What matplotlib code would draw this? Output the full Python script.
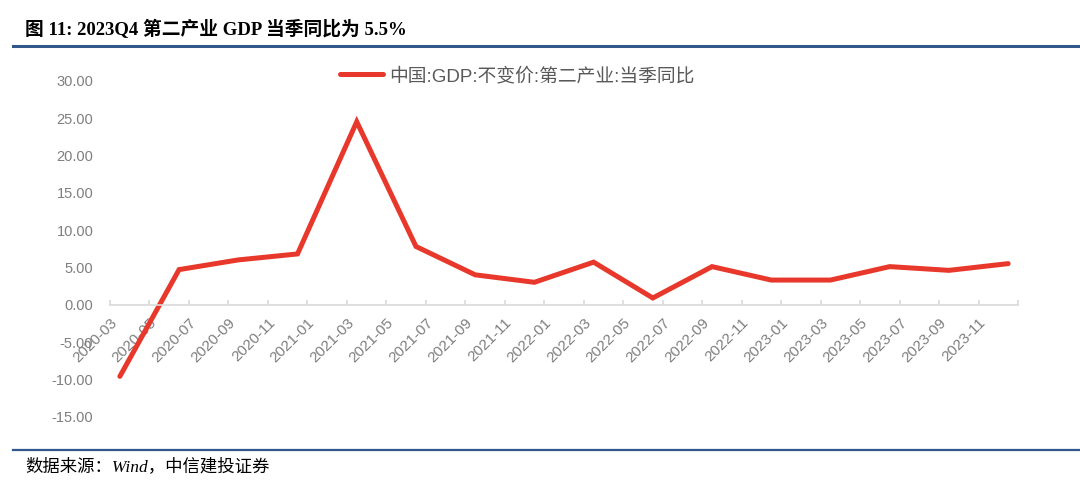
import matplotlib
matplotlib.use("Agg")
import matplotlib.pyplot as plt
from matplotlib.lines import Line2D
from matplotlib.transforms import ScaledTranslation

# quarterly data (end-of-quarter months)
quarters = ["2020-03", "2020-06", "2020-09", "2020-12",
            "2021-03", "2021-06", "2021-09", "2021-12",
            "2022-03", "2022-06", "2022-09", "2022-12",
            "2023-03", "2023-06", "2023-09", "2023-12"]
yoy = [-9.6, 4.7, 6.0, 6.8,
       24.5, 7.8, 4.0, 3.0,
       5.7, 0.9, 5.1, 3.3,
       3.3, 5.1, 4.6, 5.5]

tick_labels = ["2020-03", "2020-05", "2020-07", "2020-09", "2020-11",
               "2021-01", "2021-03", "2021-05", "2021-07", "2021-09", "2021-11",
               "2022-01", "2022-03", "2022-05", "2022-07", "2022-09", "2022-11",
               "2023-01", "2023-03", "2023-05", "2023-07", "2023-09", "2023-11"]
y_ticks = [30, 25, 20, 15, 10, 5, 0, -5, -10, -15]

legend_label = "中国:GDP:不变价:第二产业:当季同比"
title = "图 11: 2023Q4 第二产业 GDP 当季同比为 5.5%"
source = "数据来源：Wind，中信建投证券"


def month_index(s):
    y, m = s.split("-")
    return (int(y) - 2020) * 12 + int(m) - 3


W, H = 1080, 486
fig = plt.figure(figsize=(W / 100, H / 100), dpi=100)
ax = fig.add_axes([110 / W, 1 - 416.7 / H, (1018 - 110) / W, (416.7 - 80.7) / H])

xs = [month_index(q) + 0.5 for q in quarters]
ax.plot(xs, yoy, color="#E8382B", lw=3.6, solid_joinstyle="miter",
        solid_capstyle="round", label=legend_label)

ax.set_xlim(0, 46)
ax.set_ylim(-15, 30)

# x axis sits on zero
for s in ["top", "right", "left"]:
    ax.spines[s].set_visible(False)
ax.spines["bottom"].set_position(("data", 0))
ax.spines["bottom"].set_color("#d9d9d9")
ax.spines["bottom"].set_linewidth(1.2)

ax.set_xticks([month_index(t) + 0.5 for t in tick_labels])
ax.set_xticklabels(tick_labels, rotation=45, ha="right", va="top",
                   fontsize=11, color="#7f7f7f", family="Liberation Sans")
shift = ScaledTranslation(5 / 100, 0, fig.dpi_scale_trans)
for lab in ax.get_xticklabels():
    lab.set_transform(lab.get_transform() + shift)
ax.set_xticks(list(range(0, 47, 2)), minor=True)
ax.tick_params(axis="x", which="major", length=0, pad=8)
ax.tick_params(axis="x", which="minor", length=3.5, direction="in",
               color="#d9d9d9", width=1.2)

ax.set_yticks(y_ticks)
ax.set_yticklabels([f"{v:.2f}" for v in y_ticks], fontsize=10.5,
                   color="#7f7f7f", family="Liberation Sans")
ax.tick_params(axis="y", length=0, pad=12)

leg = fig.legend(loc="center left", bbox_to_anchor=(340 / W, 1 - 76 / H),
                 frameon=False, borderpad=0, borderaxespad=0,
                 handlelength=2.3, handletextpad=0.3,
                 prop={"family": ["Liberation Sans", "Noto Sans CJK SC"], "size": 13.5})
for t in leg.get_texts():
    t.set_color("#595959")

fig.text(25 / W, 1 - 29 / H, title, fontsize=13.5, fontweight="bold",
         family=["Liberation Serif", "Noto Sans CJK SC"], va="center", ha="left")
fig.text(25 / W, 1 - 467 / H, source, fontsize=12.5, style="italic",
         family=["Liberation Serif", "Noto Sans CJK SC"], va="center", ha="left")

fig.add_artist(Line2D([13 / W, 1], [1 - 46 / H] * 2, color="#2F5789", lw=2.2))
fig.add_artist(Line2D([13 / W, 1], [1 - 450 / H] * 2, color="#2F5789", lw=1.6))

fig.savefig("out.png", dpi=100)
